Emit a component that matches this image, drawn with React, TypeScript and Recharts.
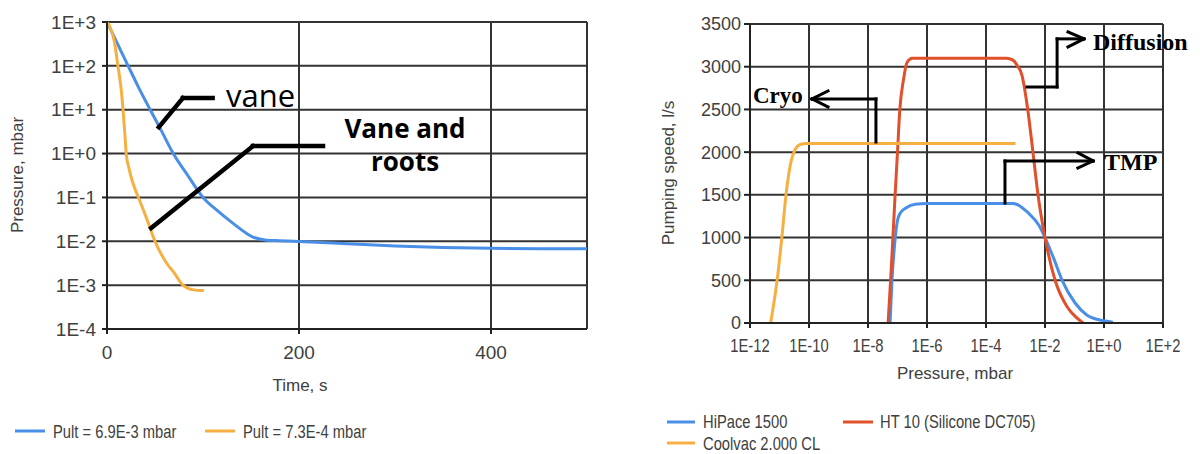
import React from 'react';
import { LineChart, Line, XAxis, YAxis, CartesianGrid, ReferenceLine } from 'recharts';

// left chart: pump-down curves, time in s vs pressure in mbar
const vaneTime = [0, 11, 22, 33, 45, 57, 69, 84, 100, 115, 131, 152, 166, 180, 200, 250, 300, 350, 400, 450, 500];
const vanePressure = [1000, 316, 100, 32, 10, 3.2, 1, 0.32, 0.1, 0.05, 0.026, 0.0125, 0.0106, 0.0103, 0.0099, 0.0088, 0.0078, 0.0072, 0.0069, 0.0068, 0.0068];
const rootsTime = [0, 3, 8, 11.5, 14.5, 16.7, 18.5, 20, 23, 26, 29, 34, 42, 50, 62, 70, 79, 90, 101];
const rootsPressure = [1000, 780, 330, 95, 33, 10, 3, 1, 0.45, 0.25, 0.16, 0.085, 0.03, 0.01, 0.0032, 0.0019, 0.001, 0.00078, 0.00075];
const timeTicks = [0, 200, 400];
const pressureTicks = [1e-4, 1e-3, 1e-2, 1e-1, 1, 10, 100, 1000];

// right chart: pumping speed (l/s) vs pressure (mbar)
const hipacePressure = [5.6e-8, 6.5e-8, 7.9e-8, 1e-7, 1.26e-7, 2e-7, 4e-7, 1e-6, 1e-4, 8.3e-4, 1.26e-3, 1.6e-3, 2.5e-3, 6.3e-3, 1e-2, 2e-2, 3.8e-2, 0.105, 0.26, 0.72, 2.0];
const hipaceSpeed = [0, 500, 900, 1200, 1290, 1350, 1390, 1400, 1400, 1400, 1380, 1355, 1300, 1140, 1000, 750, 500, 234, 94, 35, 10];
const ht10Pressure = [4.8e-8, 6.3e-8, 8.3e-8, 1e-7, 1.2e-7, 1.6e-7, 2.1e-7, 3.2e-7, 1e-5, 5e-4, 8e-4, 1.12e-3, 1.66e-3, 2.6e-3, 3.9e-3, 5.8e-3, 1e-2, 2.2e-2, 5.6e-2, 0.12, 0.195];
const ht10Speed = [0, 700, 1500, 2000, 2500, 2850, 3050, 3100, 3100, 3100, 3080, 3020, 2900, 2500, 2000, 1500, 1000, 500, 190, 60, 0];
const coolvacPressure = [5e-12, 8.3e-12, 1.2e-11, 1.66e-11, 2.5e-11, 3.5e-11, 5e-11, 8e-11, 1e-8, 1e-3];
const coolvacSpeed = [0, 500, 1000, 1500, 1900, 2040, 2090, 2100, 2100, 2100];
const rangeTicks = [1e-12, 1e-10, 1e-8, 1e-6, 1e-4, 1e-2, 1, 100];
const speedTicks = [0, 500, 1000, 1500, 2000, 2500, 3000, 3500];

// annotation leader lines, in data units
const vaneLeader = [{ x: 54, y: 4 }, { x: 79, y: 18.4 }, { x: 110, y: 18.4 }];
const rootsLeader = [{ x: 46, y: 0.02 }, { x: 152, y: 1.48 }, { x: 225, y: 1.48 }];
const cryoLeader = [{ x: 1.86e-8, y: 2119 }, { x: 1.86e-8, y: 2623 }, { x: 1.26e-10, y: 2623 }];
const cryoHead = [{ x: 4.4e-10, y: 2717 }, { x: 1.26e-10, y: 2623 }, { x: 4.4e-10, y: 2529 }];
const diffLeader = [{ x: 2.45e-3, y: 2763 }, { x: 2.57e-2, y: 2763 }, { x: 2.57e-2, y: 3326 }, { x: 0.21, y: 3326 }];
const diffHead = [{ x: 0.06, y: 3407 }, { x: 0.21, y: 3326 }, { x: 0.06, y: 3232 }];
const tmpLeader = [{ x: 4.4e-4, y: 1405 }, { x: 4.4e-4, y: 1897 }, { x: 0.43, y: 1897 }];
const tmpHead = [{ x: 0.13, y: 1991 }, { x: 0.43, y: 1897 }, { x: 0.13, y: 1815 }];

const vaneData = vaneTime.map((t, i) => ({ t, p: vanePressure[i] }));
const rootsData = rootsTime.map((t, i) => ({ t, p: rootsPressure[i] }));
const hipaceData = hipacePressure.map((p, i) => ({ p, s: hipaceSpeed[i] }));
const ht10Data = ht10Pressure.map((p, i) => ({ p, s: ht10Speed[i] }));
const coolvacData = coolvacPressure.map((p, i) => ({ p, s: coolvacSpeed[i] }));

const BLUE = '#4a8fe7';
const ORANGE = '#f6b042';
const RED = '#e0502b';
const GRID = '#333';
const TEXT = '#404040';
const SANS = '"Liberation Sans", Arial, sans-serif';
const SERIF = '"Liberation Serif", "Times New Roman", serif';

const fmtExp = (v: number) => {
  const e = Math.round(Math.log10(v));
  return `1E${e < 0 ? '-' : '+'}${Math.abs(e)}`;
};

// the source uses a squeezed sans for some labels
const Narrow = ({ x, y, children, anchor = 'start', dy }: any) => (
  <text
    transform={`translate(${x},${y}) scale(0.82,1)`}
    textAnchor={anchor}
    dy={dy}
    fontSize={18}
    fontFamily={SANS}
    fill={TEXT}
  >
    {children}
  </text>
);

const NarrowTick = ({ x, y, payload }: any) => (
  <Narrow x={x} y={y} anchor="middle" dy="0.71em">{fmtExp(payload.value)}</Narrow>
);

const segments = (pts: { x: number; y: number }[], key: string, width: number) =>
  pts.slice(1).map((b, i) => (
    <ReferenceLine
      key={`${key}-${i}`}
      segment={[pts[i], b]}
      stroke="#000"
      strokeWidth={width}
      strokeLinecap="square"
    />
  ));

export default function App() {
  return (
    <div style={{ position: 'absolute', left: 0, top: 0, width: 1200, height: 454, background: '#fff' }}>
      <div style={{ position: 'absolute', left: 0, top: 0 }}>
        <LineChart width={600} height={454} margin={{ top: 22, right: 13, bottom: 95, left: 47 }}>
          <CartesianGrid stroke={GRID} strokeWidth={2} />
          <XAxis
            type="number"
            dataKey="t"
            domain={[0, 500]}
            ticks={timeTicks}
            allowDataOverflow
            height={30}
            stroke="#222"
            strokeWidth={2}
            tickSize={5}
            tickMargin={12}
            tick={{ fill: TEXT, fontSize: 19, fontFamily: SANS }}
          />
          <YAxis
            type="number"
            dataKey="p"
            scale="log"
            domain={[1e-4, 1000]}
            ticks={pressureTicks}
            allowDataOverflow
            width={60}
            stroke="#222"
            strokeWidth={2}
            tickSize={5}
            tickMargin={6}
            tickFormatter={fmtExp}
            tick={{ fill: TEXT, fontSize: 19, fontFamily: SANS }}
          />
          <ReferenceLine x={500} stroke={GRID} strokeWidth={2} />
          <Line data={vaneData} dataKey="p" type="monotone" stroke={BLUE} strokeWidth={3} dot={false} isAnimationActive={false} />
          <Line data={rootsData} dataKey="p" type="monotone" stroke={ORANGE} strokeWidth={3} dot={false} isAnimationActive={false} />
          {segments(vaneLeader, 'vane', 4.5)}
          {segments(rootsLeader, 'roots', 4.5)}
        </LineChart>
      </div>
      <div style={{ position: 'absolute', left: 600, top: 0 }}>
        <LineChart width={600} height={454} margin={{ top: 24, right: 37, bottom: 101, left: 90 }}>
          <CartesianGrid stroke={GRID} strokeWidth={2} />
          <XAxis
            type="number"
            dataKey="p"
            scale="log"
            domain={[1e-12, 100]}
            ticks={rangeTicks}
            allowDataOverflow
            height={30}
            stroke="#222"
            strokeWidth={2}
            tickSize={5}
            tickMargin={11}
            tick={<NarrowTick />}
          />
          <YAxis
            type="number"
            dataKey="s"
            domain={[0, 3500]}
            ticks={speedTicks}
            width={60}
            stroke="#222"
            strokeWidth={2}
            tickSize={6}
            tickMargin={3}
            tick={{ fill: TEXT, fontSize: 18, fontFamily: SANS }}
          />
          <Line data={hipaceData} dataKey="s" type="monotone" stroke={BLUE} strokeWidth={3} dot={false} isAnimationActive={false} />
          <Line data={ht10Data} dataKey="s" type="monotone" stroke={RED} strokeWidth={3} dot={false} isAnimationActive={false} />
          <Line data={coolvacData} dataKey="s" type="monotone" stroke={ORANGE} strokeWidth={3} dot={false} isAnimationActive={false} />
          {segments(cryoLeader, 'cryo', 3)}
          {segments(cryoHead, 'cryoh', 3)}
          {segments(diffLeader, 'diff', 3)}
          {segments(diffHead, 'diffh', 3)}
          {segments(tmpLeader, 'tmp', 3)}
          {segments(tmpHead, 'tmph', 3)}
        </LineChart>
      </div>
      <svg width={1200} height={454} style={{ position: 'absolute', left: 0, top: 0, pointerEvents: 'none' }}>
        {/* axis titles */}
        <text x={300} y={391} textAnchor="middle" fontSize={17} fontFamily={SANS} fill={TEXT}>Time, s</text>
        <text transform="rotate(-90)" x={-175} y={23} textAnchor="middle" fontSize={17} fontFamily={SANS} fill={TEXT}>Pressure, mbar</text>
        <text x={955} y={379} textAnchor="middle" fontSize={17} fontFamily={SANS} fill={TEXT}>Pressure, mbar</text>
        <text transform="rotate(-90)" x={-173} y={674} textAnchor="middle" fontSize={17} fontFamily={SANS} fill={TEXT}>Pumping speed, l/s</text>

        {/* annotations */}
        <text x={226} y={107} fontSize={31} fontFamily='"Open Sans", sans-serif' fill="#000">vane</text>
        <text x={405} y={138} textAnchor="middle" fontSize={26} fontWeight="bold" fontFamily='"Open Sans", sans-serif' fill="#000">Vane and</text>
        <text x={405} y={171} textAnchor="middle" fontSize={26} fontWeight="bold" fontFamily='"Open Sans", sans-serif' fill="#000">roots</text>
        <text x={753} y={103} fontSize={23} fontWeight="bold" fontFamily={SERIF} fill="#000">Cryo</text>
        <text x={1093} y={50} fontSize={24} fontWeight="bold" fontFamily={SERIF} fill="#000">Diffusion</text>
        <text x={1104} y={170} fontSize={24} fontWeight="bold" fontFamily={SERIF} fill="#000">TMP</text>

        {/* legends */}
        <line x1={15} x2={45} y1={431} y2={431} stroke={BLUE} strokeWidth={3} />
        <Narrow x={53} y={438}>Pult = 6.9E-3 mbar</Narrow>
        <line x1={205} x2={235} y1={431} y2={431} stroke={ORANGE} strokeWidth={3} />
        <Narrow x={243} y={438}>Pult = 7.3E-4 mbar</Narrow>

        <line x1={667} x2={695} y1={422} y2={422} stroke={BLUE} strokeWidth={3} />
        <Narrow x={703} y={428}>HiPace 1500</Narrow>
        <line x1={843} x2={873} y1={422} y2={422} stroke={RED} strokeWidth={3} />
        <Narrow x={880} y={428}>HT 10 (Silicone DC705)</Narrow>
        <line x1={667} x2={695} y1={443} y2={443} stroke={ORANGE} strokeWidth={3} />
        <Narrow x={703} y={450}>Coolvac 2.000 CL</Narrow>
      </svg>
    </div>
  );
}
